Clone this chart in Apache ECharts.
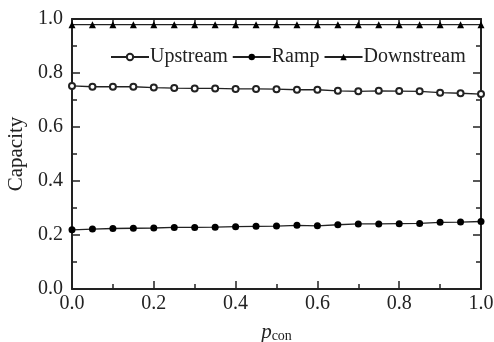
<!DOCTYPE html>
<html>
<head>
<meta charset="utf-8">
<script src="https://cdn.jsdelivr.net/npm/echarts@6/dist/echarts.min.js"></script>
<style>
  html, body { margin: 0; padding: 0; background: #fff; }
  #chart { width: 494px; height: 342px; }
</style>
</head>
<body>
<div id="chart"></div>
<script>
const pcon = [0, 0.05, 0.1, 0.15, 0.2, 0.25, 0.3, 0.35, 0.4, 0.45, 0.5,
  0.55, 0.6, 0.65, 0.7, 0.75, 0.8, 0.85, 0.9, 0.95, 1.0]
const upstream = [0.752, 0.749, 0.749, 0.749, 0.746, 0.744, 0.743, 0.743, 0.741, 0.741, 0.740,
  0.738, 0.738, 0.734, 0.732, 0.734, 0.733, 0.732, 0.727, 0.725, 0.722]
const ramp = [0.219, 0.222, 0.224, 0.225, 0.226, 0.228, 0.228, 0.229, 0.231, 0.232, 0.233,
  0.236, 0.234, 0.238, 0.241, 0.241, 0.242, 0.243, 0.247, 0.248, 0.250]
const downstream = [0.979, 0.979, 0.979, 0.979, 0.979, 0.979, 0.979, 0.979, 0.979, 0.979, 0.979,
  0.979, 0.979, 0.979, 0.979, 0.979, 0.979, 0.979, 0.979, 0.979, 0.979]
const seriesNames = ['Upstream', 'Ramp', 'Downstream']

const font = 'Liberation Serif'
const ink = '#222'

const chart = echarts.init(document.getElementById('chart'))

const pairs = (ys) => pcon.map((x, i) => [x, ys[i]])

const baseAxis = {
  type: 'value',
  min: 0,
  max: 1,
  interval: 0.2,
  axisLine: { show: true, onZero: false, lineStyle: { color: ink, width: 2 } },
  axisTick: { show: true, inside: true, length: 8, lineStyle: { color: ink, width: 1.5 } },
  minorTick: { show: true, splitNumber: 2, length: 5, lineStyle: { color: ink, width: 1.5 } },
  splitLine: { show: false },
  axisLabel: { color: ink, fontFamily: font, fontSize: 20, formatter: (v) => v.toFixed(1) }
}

const lineStyle = { color: ink, width: 1.3 }

const option = {
  backgroundColor: '#fff',
  animation: false,
  grid: { left: 72, right: 13, top: 19, bottom: 53, outerBoundsMode: 'none', containLabel: false },
  legend: {
    left: 105,
    top: 42,
    itemWidth: 38,
    itemHeight: 8,
    itemGap: 4,
    data: seriesNames,
    textStyle: { color: ink, fontFamily: font, fontSize: 20, padding: [0, 0, 0, -4] }
  },
  xAxis: [
    Object.assign({}, baseAxis, {
      position: 'bottom',
      name: '{i|p}{s|con}',
      nameLocation: 'middle',
      nameGap: 32,
      nameTextStyle: {
        rich: {
          i: { fontFamily: font, fontStyle: 'italic', fontSize: 21, color: ink },
          s: { fontFamily: font, fontSize: 14, color: ink, verticalAlign: 'bottom', padding: [8, 0, 0, 0] }
        }
      },
      axisLabel: Object.assign({}, baseAxis.axisLabel, { margin: 5 })
    }),
    Object.assign({}, baseAxis, {
      position: 'top',
      axisLabel: { show: false }
    })
  ],
  yAxis: [
    Object.assign({}, baseAxis, {
      position: 'left',
      name: 'Capacity',
      nameLocation: 'middle',
      nameGap: 43,
      nameTextStyle: { color: ink, fontFamily: font, fontSize: 21 },
      axisLabel: Object.assign({}, baseAxis.axisLabel, { margin: 9 })
    }),
    Object.assign({}, baseAxis, {
      position: 'right',
      axisLabel: { show: false }
    })
  ],
  series: [
    {
      name: seriesNames[0],
      type: 'line',
      data: pairs(upstream),
      symbol: 'emptyCircle',
      symbolSize: 6,
      lineStyle: lineStyle,
      itemStyle: { color: ink, borderColor: ink, borderWidth: 1.5 }
    },
    {
      name: seriesNames[1],
      type: 'line',
      data: pairs(ramp),
      symbol: 'circle',
      symbolSize: 7,
      lineStyle: lineStyle,
      itemStyle: { color: '#000' }
    },
    {
      name: seriesNames[2],
      type: 'line',
      data: pairs(downstream),
      symbol: 'triangle',
      symbolSize: 7,
      lineStyle: lineStyle,
      itemStyle: { color: '#000' }
    }
  ]
}

chart.setOption(option)
</script>
</body>
</html>
